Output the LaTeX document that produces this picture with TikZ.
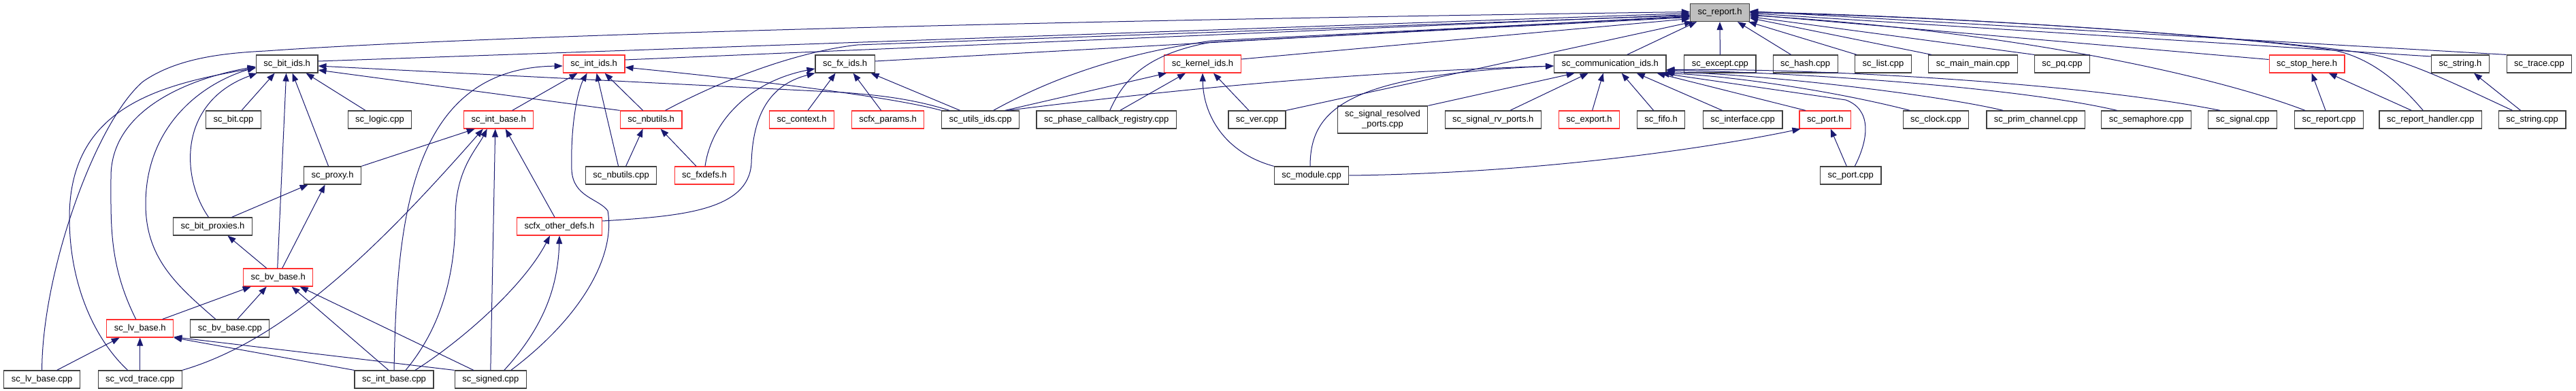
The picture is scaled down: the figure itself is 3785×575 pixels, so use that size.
\documentclass[tikz,border=0pt]{standalone}
\usepackage{fontspec}
\setmainfont{Liberation Sans}
\usetikzlibrary{arrows.meta}
\definecolor{edgeblue}{HTML}{191970}
\definecolor{redline}{HTML}{FF3030}
\definecolor{greyfill}{HTML}{BFBFBF}
\newcommand{\filefont}{\fontsize{13}{15}\selectfont}

\begin{document}
\begin{tikzpicture}[x=1pt, y=-1pt,
    file/.style={draw=black!75, line width=1.2pt, fill=white, font=\filefont,
      inner xsep=11pt, inner ysep=0pt, minimum height=26pt, text height=9.5pt, text depth=2.8pt},
    hdr/.style={file, draw=redline},
    main/.style={file, fill=greyfill},
    dep/.style={draw=edgeblue, line width=1pt, -{Triangle[length=12pt,width=9pt]}}]

    \path[use as bounding box, fill=white] (0,0) rectangle (3785,575);

    \node[main] (report) at (2527,18.5) {sc\_report.h};

    \node[file] (bitids) at (421.6,94) {sc\_bit\_ids.h};
    \node[hdr] (intids) at (872.6,94) {sc\_int\_ids.h};
    \node[file] (fxids) at (1241.6,94) {sc\_fx\_ids.h};
    \node[hdr] (kernelids) at (1767,94) {sc\_kernel\_ids.h};
    \node[file] (commids) at (2365.7,94) {sc\_communication\_ids.h};
    \node[file] (except) at (2527.4,94) {sc\_except.cpp};
    \node[file] (hash) at (2652.6,94) {sc\_hash.cpp};
    \node[file] (list) at (2767,94) {sc\_list.cpp};
    \node[file] (mainmain) at (2899,94) {sc\_main\_main.cpp};
    \node[file] (pq) at (3030,94) {sc\_pq.cpp};
    \node[hdr] (stophere) at (3389.6,94) {sc\_stop\_here.h};
    \node[file] (stringh) at (3615,94) {sc\_string.h};
    \node[file] (trace) at (3731,94) {sc\_trace.cpp};

    \node[file] (bitcpp) at (343,176) {sc\_bit.cpp};
    \node[file] (logic) at (558,176) {sc\_logic.cpp};
    \node[hdr] (intbaseh) at (732.7,176) {sc\_int\_base.h};
    \node[hdr] (nbutilsh) at (956.6,176) {sc\_nbutils.h};
    \node[hdr] (context) at (1178,176) {sc\_context.h};
    \node[hdr] (params) at (1304.6,176) {scfx\_params.h};
    \node[file] (utilsids) at (1440.6,176) {sc\_utils\_ids.cpp};
    \node[file] (phase) at (1625.7,176) {sc\_phase\_callback\_registry.cpp};
    \node[file] (ver) at (1847,176) {sc\_ver.cpp};
    \node[file, text height={}, text depth={}, align=center, minimum height=40pt] (resolved) at (2031.5,176) {sc\_signal\_resolved\\\_ports.cpp};
    \node[file] (rvports) at (2193.8,176) {sc\_signal\_rv\_ports.h};
    \node[hdr] (export) at (2335,176) {sc\_export.h};
    \node[file] (fifo) at (2440.6,176) {sc\_fifo.h};
    \node[file] (interface) at (2560.6,176) {sc\_interface.cpp};
    \node[hdr] (porth) at (2681.8,176) {sc\_port.h};
    \node[file] (clock) at (2844.4,176) {sc\_clock.cpp};
    \node[file] (prim) at (2991.3,176) {sc\_prim\_channel.cpp};
    \node[file] (semaphore) at (3153.7,176) {sc\_semaphore.cpp};
    \node[file] (signal) at (3295.2,176) {sc\_signal.cpp};
    \node[file] (reportcpp) at (3422,176) {sc\_report.cpp};
    \node[file] (handler) at (3571.3,176) {sc\_report\_handler.cpp};
    \node[file] (stringcpp) at (3720.6,176) {sc\_string.cpp};

    \node[file] (proxy) at (488.6,258) {sc\_proxy.h};
    \node[file] (nbutilscpp) at (912.6,258) {sc\_nbutils.cpp};
    \node[hdr] (fxdefs) at (1035,258) {sc\_fxdefs.h};
    \node[file] (module) at (1927,258) {sc\_module.cpp};
    \node[file] (portcpp) at (2719.3,258) {sc\_port.cpp};

    \node[file] (bitproxies) at (312.5,333) {sc\_bit\_proxies.h};
    \node[hdr] (otherdefs) at (822,333) {scfx\_other\_defs.h};
    \node[hdr] (bvbaseh) at (408.7,408) {sc\_bv\_base.h};
    \node[hdr] (lvbaseh) at (205.7,483) {sc\_lv\_base.h};
    \node[file] (bvbasecpp) at (337.8,483) {sc\_bv\_base.cpp};

    \node[file] (lvbasecpp) at (61.6,558) {sc\_lv\_base.cpp};
    \node[file] (vcd) at (205.7,558) {sc\_vcd\_trace.cpp};
    \node[file] (intbasecpp) at (579,558) {sc\_int\_base.cpp};
    \node[file] (signed) at (720.8,558) {sc\_signed.cpp};

    % into sc_report.h
    \draw[dep] ([yshift=4pt]bitids.east) -- ([yshift=-1pt]report.west);
    \draw[dep] ([yshift=6pt]intids.east) -- ([yshift=-3pt]report.west);
    \draw[dep] ([yshift=4pt]fxids.east) -- ([yshift=-5pt]report.west);
    \draw[dep] ([yshift=7pt]kernelids.east) -- ([yshift=-9pt]report.west);
    \draw[dep] ([xshift=25pt]commids.north) -- ([xshift=10pt]report.south west);
    \draw[dep] (except.north) -- (report.south);
    \draw[dep] ([xshift=-21pt]hash.north) -- ([xshift=26pt]report.south);
    \draw[dep] ([xshift=-39pt]list.north) -- ([xshift=-2pt]report.south east);
    \draw[dep] ([xshift=-61pt]mainmain.north) -- ([yshift=-8pt]report.east);
    \draw[dep] (pq.north west) -- ([yshift=-6pt]report.east);
    \draw[dep] ([yshift=6.5pt]stophere.west) -- ([yshift=-3pt]report.east);
    \draw[dep] ([yshift=11pt]stringh.west) -- ([yshift=-1pt]report.east);
    \draw[dep] (trace.north west) -- ([yshift=2pt]report.east);
    \draw[dep] ([xshift=-35pt]reportcpp.north) .. controls (3250,110) and (2950,45) .. ([yshift=-4pt]report.east);
    \draw[dep] ([xshift=-11pt]handler.north) .. controls (3520,115) and (3480,85) .. (3430,74) .. controls (3300,55) and (2900,25) .. (report.east);
    \draw[dep] ([xshift=-29pt]stringcpp.north) .. controls (3600,120) and (3540,90) .. (3480,79) .. controls (3350,58) and (2900,25) .. ([yshift=1pt]report.east);
    \draw[dep] ([xshift=21pt]nbutilsh.north) .. controls (1060,118) and (1170,76) .. (1260,66) -- ([yshift=-4pt]report.west);
    \draw[dep] ([xshift=19pt]utilsids.north) .. controls (1540,118) and (1640,80) .. (1780,60) -- ([yshift=-6pt]report.west);
    \draw[dep] ([xshift=5pt]phase.north) .. controls (1650,120) and (1680,80) .. (1780,62) -- ([yshift=-7pt]report.west);
    \draw[dep] (ver.north east) -- ([xshift=4pt]report.south west);
    \draw[dep] (lvbasecpp.north) .. controls (62,400) and (140,180) .. (210,120) .. controls (260,85) and (330,78) .. (390,75) .. controls (600,60) and (1200,35) .. ([yshift=1pt]report.west);

    % into sc_communication_ids.h
    \draw[dep] ([xshift=40pt]utilsids.north) .. controls (1700,135) and (1950,108) .. ([yshift=-3pt]commids.west);
    \draw[dep] ([xshift=-2pt]module.north) .. controls (1925,160) and (1980,110) .. ([yshift=-3pt]commids.west);
    \draw[dep] (resolved.north east) -- ([xshift=-52pt]commids.south);
    \draw[dep] ([xshift=25pt]rvports.north) -- ([xshift=-32pt]commids.south);
    \draw[dep] ([xshift=4.6pt]export.north) -- ([xshift=-10pt]commids.south);
    \draw[dep] ([xshift=-11pt]fifo.north) -- ([xshift=17pt]commids.south);
    \draw[dep] ([xshift=-30pt]interface.north) -- ([xshift=39pt]commids.south);
    \draw[dep] ([xshift=-29pt]porth.north) -- ([xshift=-14pt]commids.south east);
    \draw[dep] ([xshift=6pt]portcpp.north) .. controls (2748,200) and (2748,160) .. (2712,147) -- ([xshift=-8pt]commids.south east);
    \draw[dep] ([xshift=-38pt]clock.north) .. controls (2700,135) and (2550,112) .. ([xshift=-2pt]commids.south east);
    \draw[dep] ([xshift=-48pt]prim.north) .. controls (2850,140) and (2600,110) .. ([yshift=2pt]commids.south east);
    \draw[dep] ([xshift=-43pt]semaphore.north) .. controls (2950,125) and (2600,105) .. ([yshift=4pt]commids.south east);
    \draw[dep] ([xshift=-33pt]signal.north) .. controls (3050,120) and (2650,100) .. ([yshift=5pt]commids.south east);

    % into sc_kernel_ids.h and sc_fx_ids.h
    \draw[dep] ([xshift=36pt]utilsids.north) -- ([xshift=-53pt]kernelids.south);
    \draw[dep] ([xshift=20pt]phase.north) -- ([xshift=-25pt]kernelids.south);
    \draw[dep] ([xshift=-12pt]ver.north) -- ([xshift=16pt]kernelids.south);
    \draw[dep] (module.north west) .. controls (1800,225) and (1768,170) .. (kernelids.south);
    \draw[dep] ([xshift=9pt]context.north) -- ([xshift=-14pt]fxids.south);
    \draw[dep] ([xshift=-10pt]params.north) -- ([xshift=12pt]fxids.south);
    \draw[dep] ([xshift=-30pt]utilsids.north) -- ([xshift=38pt]fxids.south);
    \draw[dep] ([xshift=1pt]fxdefs.north) .. controls (1045,180) and (1100,120) .. ([yshift=-7pt]fxids.west);
    \draw[dep] ([yshift=8pt]otherdefs.east) .. controls (1000,318) and (1100,310) .. (1104,240) .. controls (1106,170) and (1130,125) .. (fxids.south west);

    % into sc_int_ids.h
    \draw[dep] ([xshift=20pt]intbaseh.north) -- ([xshift=-24pt]intids.south);
    \draw[dep] ([xshift=-12pt]nbutilsh.north) -- ([xshift=16pt]intids.south);
    \draw[dep] ([xshift=-4pt]nbutilscpp.north) -- ([xshift=4pt]intids.south);
    \draw[dep] (utilsids.north west) .. controls (1320,145) and (1150,122) .. ([yshift=-5pt]intids.east);
    \draw[dep] (intbasecpp.north) .. controls (583,330) and (600,100) .. ([yshift=-3pt]intids.west);
    \draw[dep] ([xshift=30pt]signed.north) .. controls (850,470) and (905,380) .. (893,310) .. controls (880,292) and (842,290) .. (840,250) .. controls (838,180) and (850,130) .. ([xshift=-10pt]intids.south);

    % into sc_bit_ids.h
    \draw[dep] ([xshift=12pt]bitcpp.north) -- ([xshift=-18pt]bitids.south);
    \draw[dep] ([xshift=-21pt]logic.north) -- ([xshift=28pt]bitids.south);
    \draw[dep] ([xshift=-6pt]proxy.north) -- ([xshift=8pt]bitids.south);
    \draw[dep] ([xshift=-1pt]bvbaseh.north) -- ([xshift=-1pt]bitids.south);
    \draw[dep] ([xshift=-6pt]bitproxies.north) .. controls (265,260) and (262,150) .. ([xshift=2pt]bitids.south west);
    \draw[dep] ([xshift=-6pt]lvbaseh.north) .. controls (160,390) and (163,330) .. (163,260) .. controls (163,160) and (280,115) .. ([yshift=-4pt]bitids.west);
    \draw[dep] ([xshift=-21pt]bvbasecpp.north) .. controls (260,420) and (214,380) .. (214,300) .. controls (214,190) and (290,125) .. ([yshift=-5pt]bitids.west);
    \draw[dep] ([xshift=-18pt]vcd.north) .. controls (140,500) and (102,420) .. (102,320) .. controls (102,160) and (230,125) .. ([yshift=-6pt]bitids.west);
    \draw[dep] (nbutilsh.north west) -- ([yshift=-9pt]bitids.east);
    \draw[dep] ([xshift=12pt]utilsids.north west) .. controls (1340,145) and (1290,140) .. (1240,136) -- ([yshift=-3pt]bitids.east);

    % into sc_int_base.h, sc_nbutils.h, scfx_other_defs.h
    \draw[dep] (proxy.north east) -- ([xshift=-35pt]intbaseh.south);
    \draw[dep] (vcd.north east) .. controls (420,500) and (560,360) .. ([xshift=-23pt]intbaseh.south);
    \draw[dep] ([xshift=17pt]intbasecpp.north) .. controls (650,480) and (669,400) .. (669,320) .. controls (669,250) and (700,220) .. ([xshift=-17pt]intbaseh.south);
    \draw[dep] (signed.north) -- ([xshift=-5pt]intbaseh.south);
    \draw[dep] ([xshift=-7pt]otherdefs.north) -- ([xshift=10pt]intbaseh.south);
    \draw[dep] ([xshift=7pt]nbutilscpp.north) -- ([xshift=-12pt]nbutilsh.south);
    \draw[dep] ([xshift=-12pt]fxdefs.north) -- ([xshift=14pt]nbutilsh.south);
    \draw[dep] ([xshift=31pt]intbasecpp.north) .. controls (680,500) and (770,420) .. ([xshift=-14pt]otherdefs.south);
    \draw[dep] ([xshift=20pt]signed.north) .. controls (800,480) and (820,420) .. (otherdefs.south);

    % proxies and bit vectors
    \draw[dep] ([xshift=28pt]bitproxies.north) -- ([xshift=-36pt]proxy.south);
    \draw[dep] ([xshift=6pt]bvbaseh.north) -- ([xshift=-11pt]proxy.south);
    \draw[dep] ([xshift=-17pt]bvbaseh.north) -- ([xshift=22pt]bitproxies.south);
    \draw[dep] ([xshift=33pt]lvbaseh.north) -- ([xshift=-40pt]bvbaseh.south);
    \draw[dep] ([xshift=11pt]bvbasecpp.north) -- ([xshift=-17pt]bvbaseh.south);
    \draw[dep] ([xshift=-8pt]intbasecpp.north) -- ([xshift=20pt]bvbaseh.south);
    \draw[dep] ([xshift=-25pt]signed.north) -- ([xshift=32pt]bvbaseh.south);
    \draw[dep] ([xshift=22pt]lvbasecpp.north) -- ([xshift=-30pt]lvbaseh.south);
    \draw[dep] (vcd.north) -- (lvbaseh.south);
    \draw[dep] (intbasecpp.north west) -- (lvbaseh.south east);
    \draw[dep] (signed.north west) -- ([yshift=1pt]lvbaseh.south east);

    % ports, stop and strings
    \draw[dep] (module.east) .. controls (2250,255) and (2500,220) .. ([xshift=2pt]porth.south west);
    \draw[dep] ([xshift=-6pt]portcpp.north) -- ([xshift=8pt]porth.south);
    \draw[dep] ([xshift=-5pt]reportcpp.north) -- ([xshift=7pt]stophere.south);
    \draw[dep] ([xshift=-28pt]handler.north) -- ([xshift=32pt]stophere.south);
    \draw[dep] ([xshift=-17pt]stringcpp.north) -- ([xshift=20pt]stringh.south);

\end{tikzpicture}
\end{document}
